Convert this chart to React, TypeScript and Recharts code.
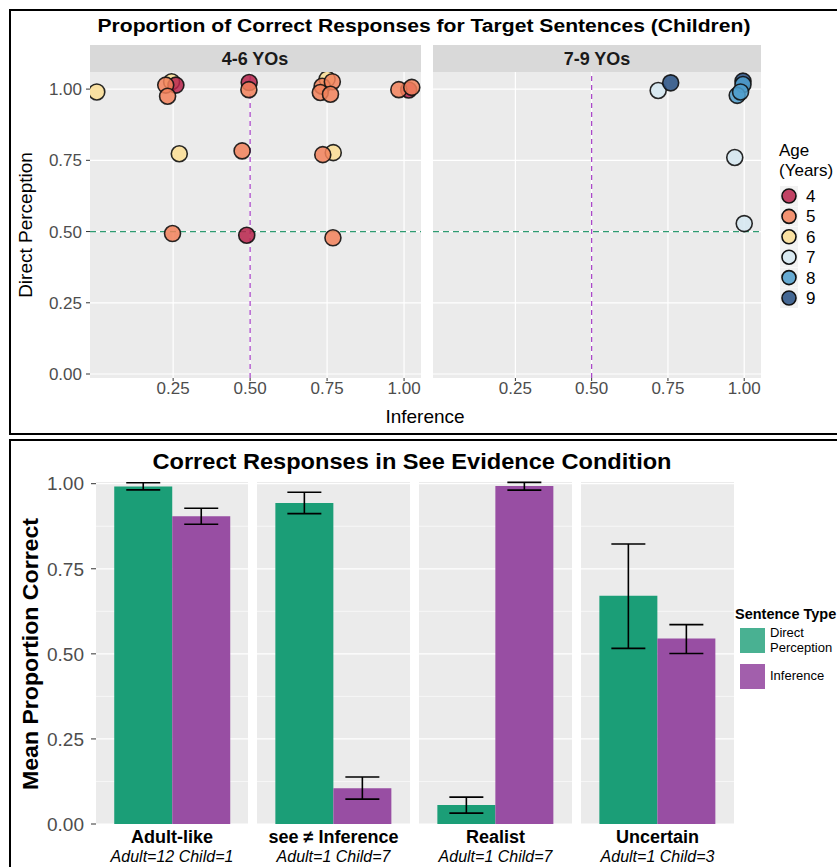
import React from 'react';
import {
  ScatterChart,
  Scatter,
  BarChart,
  Bar,
  ErrorBar,
  XAxis,
  YAxis,
  CartesianGrid,
  ReferenceLine,
} from 'recharts';

const FONT = '"Liberation Sans", Arial, sans-serif';
const AXIS_TEXT = '#4D4D4D';

// ---- top figure: children's proportions (x = inference, y = direct perception)
const age4X = [0.259, 0.497, 1.015, 0.489];
const age4Y = [1.014, 1.023, 0.997, 0.487];
const age5X = [0.226, 0.232, 0.496, 0.734, 0.728, 0.767, 0.761, 0.983, 1.025, 0.474, 0.736, 0.248, 0.769];
const age5Y = [1.014, 0.975, 0.998, 1.01, 0.988, 1.026, 0.982, 0.998, 1.006, 0.783, 0.77, 0.493, 0.478];
const age6X = [0.002, 0.245, 0.75, 0.27, 0.77];
const age6Y = [0.99, 1.026, 1.035, 0.773, 0.777];
const age7X = [0.718, 0.969, 1.0];
const age7Y = [0.995, 0.76, 0.528];
const age8X = [0.996, 0.977, 0.988];
const age8Y = [1.016, 0.978, 0.99];
const age9X = [0.759, 0.996];
const age9Y = [1.022, 1.028];

const ages = ['4', '5', '6', '7', '8', '9'];
const ageColors = ['#b8234b', '#f2815a', '#fcde94', '#d5e7f1', '#4e9dcc', '#264f82'];

const inferenceTicks = [0.25, 0.5, 0.75, 1.0];
const propTicks = [0, 0.25, 0.5, 0.75, 1.0];
const minorTicks = [0.125, 0.375, 0.625, 0.875];

// ---- bottom figure: see evidence condition
const conditions = ['Adult-like', 'see \u2260 Inference', 'Realist', 'Uncertain'];
const conditionCounts = ['Adult=12 Child=1', 'Adult=1 Child=7', 'Adult=1 Child=7', 'Adult=1 Child=3'];
const dpMean = [0.992, 0.943, 0.056, 0.671];
const dpLow = [0.982, 0.912, 0.032, 0.516];
const dpHigh = [1.003, 0.975, 0.079, 0.823];
const infMean = [0.904, 0.105, 0.993, 0.545];
const infLow = [0.881, 0.073, 0.981, 0.501];
const infHigh = [0.928, 0.138, 1.004, 0.586];

const GREEN = '#1b9e77';
const PURPLE = '#984ea3';

const f2 = (v: number) => v.toFixed(2);

const toPoints = (xs: number[], ys: number[]) => xs.map((x, i) => ({ x, y: ys[i] }));

// drawing order roughly follows how the points overlap in the original
const groupsYoung = [
  { age: 2, data: toPoints(age6X, age6Y) },
  { age: 0, data: toPoints(age4X, age4Y) },
  { age: 1, data: toPoints(age5X, age5Y) },
];
const groupsOld = [
  { age: 3, data: toPoints(age7X, age7Y) },
  { age: 5, data: toPoints(age9X, age9Y) },
  { age: 4, data: toPoints(age8X, age8Y) },
];

const dot = (color: string) => (p: any) => {
  if (p.cx == null || p.cy == null) return <g />;
  return (
    <circle
      cx={p.cx}
      cy={p.cy}
      r={8}
      fill={color}
      fillOpacity={0.85}
      stroke="#111"
      strokeOpacity={0.9}
      strokeWidth={1.6}
    />
  );
};

function AgePanel({ groups, left, showY }: { groups: typeof groupsYoung; left: number; showY: boolean }) {
  const width = showY ? 421 : 328;
  return (
    <div style={{ position: 'absolute', left, top: 52 }}>
      <ScatterChart width={width} height={350} margin={{ top: 20, right: 0, bottom: 0, left: 0 }}>
        <CartesianGrid
          fill="#EBEBEB"
          fillOpacity={1}
          stroke="#ffffff"
          strokeWidth={1.2}
          horizontalValues={propTicks}
          verticalValues={inferenceTicks}
        />
        <XAxis
          type="number"
          dataKey="x"
          domain={[-0.02, 1.055]}
          ticks={inferenceTicks}
          tickFormatter={f2}
          allowDataOverflow
          axisLine={false}
          tickLine={{ stroke: '#333' }}
          tickSize={3}
          tickMargin={1}
          height={24}
          tick={{ fontSize: 17, fill: AXIS_TEXT, fontFamily: FONT }}
        />
        <YAxis
          type="number"
          dataKey="y"
          domain={[-0.014, 1.06]}
          ticks={propTicks}
          tickFormatter={f2}
          allowDataOverflow
          hide={!showY}
          width={90}
          axisLine={false}
          tickLine={{ stroke: '#333' }}
          tickSize={4}
          tickMargin={4}
          tick={{ fontSize: 17, fill: AXIS_TEXT, fontFamily: FONT }}
        />
        <ReferenceLine x={0.5} stroke="#a63ec6" strokeWidth={1.2} strokeDasharray="5 4" />
        <ReferenceLine y={0.5} stroke="#2f9b72" strokeWidth={1.2} strokeDasharray="6 4" />
        {groups.map((g) => (
          <Scatter
            key={ages[g.age]}
            name={ages[g.age]}
            data={g.data}
            shape={dot(ageColors[g.age])}
            isAnimationActive={false}
          />
        ))}
      </ScatterChart>
    </div>
  );
}

const FacetTick = (props: any) => {
  const { x, y, payload } = props;
  const i = conditions.indexOf(payload.value);
  return (
    <g>
      <text x={x} y={y + 19} textAnchor="middle" fontFamily={FONT} fontWeight="bold" fontSize={18} fill="#000">
        {payload.value}
      </text>
      <text x={x} y={y + 38} textAnchor="middle" fontFamily={FONT} fontStyle="italic" fontSize={16} fill="#000">
        {conditionCounts[i]}
      </text>
    </g>
  );
};

function ConditionPanel({ index, left }: { index: number; left: number }) {
  const showY = index === 0;
  const row = [
    {
      cond: conditions[index],
      dp: dpMean[index],
      inf: infMean[index],
      dpErr: [dpMean[index] - dpLow[index], dpHigh[index] - dpMean[index]],
      infErr: [infMean[index] - infLow[index], infHigh[index] - infMean[index]],
    },
  ];
  return (
    <div style={{ position: 'absolute', left, top: 462 }}>
      <BarChart
        width={showY ? 248 : 153}
        height={405}
        data={row}
        margin={{ top: 20, right: 0, bottom: 0, left: 0 }}
        barCategoryGap="12%"
        barGap={0}
      >
        <CartesianGrid
          fill="#EBEBEB"
          fillOpacity={1}
          stroke="#ffffff"
          strokeWidth={0.6}
          vertical={false}
          horizontalValues={minorTicks}
        />
        <CartesianGrid stroke="#ffffff" strokeWidth={1.2} vertical={false} horizontalValues={propTicks} />
        <XAxis
          dataKey="cond"
          type="category"
          axisLine={false}
          tickLine={false}
          tickSize={0}
          tickMargin={0}
          height={43}
          interval={0}
          tick={<FacetTick />}
        />
        <YAxis
          type="number"
          domain={[0, 1.005]}
          ticks={propTicks}
          tickFormatter={f2}
          allowDataOverflow
          hide={!showY}
          width={96}
          axisLine={false}
          tickLine={{ stroke: '#333' }}
          tickSize={5}
          tickMargin={7}
          interval={0}
          tick={{ fontSize: 19, fill: AXIS_TEXT, fontFamily: FONT }}
        />
        <Bar dataKey="dp" fill={GREEN} isAnimationActive={false}>
          <ErrorBar dataKey="dpErr" width={17} stroke="#000" strokeWidth={1.6} direction="y" />
        </Bar>
        <Bar dataKey="inf" fill={PURPLE} isAnimationActive={false}>
          <ErrorBar dataKey="infErr" width={17} stroke="#000" strokeWidth={1.6} direction="y" />
        </Bar>
      </BarChart>
    </div>
  );
}

const stripLabels = ['4-6 YOs', '7-9 YOs'];

export default function App() {
  return (
    <div
      style={{
        position: 'absolute',
        left: 0,
        top: 0,
        width: 837,
        height: 867,
        overflow: 'hidden',
        background: '#fff',
        fontFamily: FONT,
      }}
    >
      {conditions.map((c, i) => (
        <ConditionPanel key={c} index={i} left={[0, 257, 419, 581][i]} />
      ))}
      <AgePanel groups={groupsYoung} left={0} showY />
      <AgePanel groups={groupsOld} left={433} showY={false} />

      <svg
        width={837}
        height={867}
        style={{ position: 'absolute', left: 0, top: 0, pointerEvents: 'none' }}
        fontFamily={FONT}
      >
        {/* figure frames */}
        <rect x={10} y={10} width={840} height={424} fill="none" stroke="#000" strokeWidth={2} />
        <rect x={10} y={440} width={840} height={440} fill="none" stroke="#000" strokeWidth={2} />

        {/* top figure */}
        <text x={424} y={32} textAnchor="middle" fontWeight="bold" fontSize={18} textLength={653} lengthAdjust="spacingAndGlyphs">
          Proportion of Correct Responses for Target Sentences (Children)
        </text>
        <rect x={90} y={45} width={331} height={27} fill="#D9D9D9" />
        <rect x={433} y={45} width={328} height={27} fill="#D9D9D9" />
        <text x={255} y={65} textAnchor="middle" fontWeight="bold" fontSize={18} fill="#1a1a1a">
          {stripLabels[0]}
        </text>
        <text x={597} y={65} textAnchor="middle" fontWeight="bold" fontSize={18} fill="#1a1a1a">
          {stripLabels[1]}
        </text>
        <text x={425} y={423} textAnchor="middle" fontSize={19}>
          Inference
        </text>
        <text transform="translate(32,225) rotate(-90)" textAnchor="middle" fontSize={19}>
          Direct Perception
        </text>

        <text x={779} y={156} fontSize={17}>Age</text>
        <text x={779} y={176} fontSize={17}>(Years)</text>
        {ages.map((a, i) => (
          <g key={a}>
            <rect x={780} y={186 + i * 20.4} width={18} height={20} fill="#F2F2F2" />
            <circle
              cx={789}
              cy={196 + i * 20.4}
              r={7}
              fill={ageColors[i]}
              fillOpacity={0.85}
              stroke="#111"
              strokeWidth={1.6}
            />
            <text x={806} y={202 + i * 20.4} fontSize={17}>
              {a}
            </text>
          </g>
        ))}

        {/* bottom figure */}
        <text x={412} y={469} textAnchor="middle" fontWeight="bold" fontSize={22} textLength={519} lengthAdjust="spacingAndGlyphs">
          Correct Responses in See Evidence Condition
        </text>
        <text
          transform="translate(38,654) rotate(-90)"
          textAnchor="middle"
          fontWeight="bold"
          fontSize={22}
          textLength={272}
          lengthAdjust="spacingAndGlyphs"
        >
          Mean Proportion Correct
        </text>

        <text x={735} y={619} fontWeight="bold" fontSize={14.5}>Sentence Type</text>
        <rect x={740} y={628} width={25} height={25} fill={GREEN} fillOpacity={0.8} />
        <rect x={740} y={664} width={25} height={25} fill={PURPLE} fillOpacity={0.9} />
        <text x={770} y={637} fontSize={13}>Direct</text>
        <text x={770} y={652} fontSize={13}>Perception</text>
        <text x={770} y={680} fontSize={13}>Inference</text>
      </svg>
    </div>
  );
}
